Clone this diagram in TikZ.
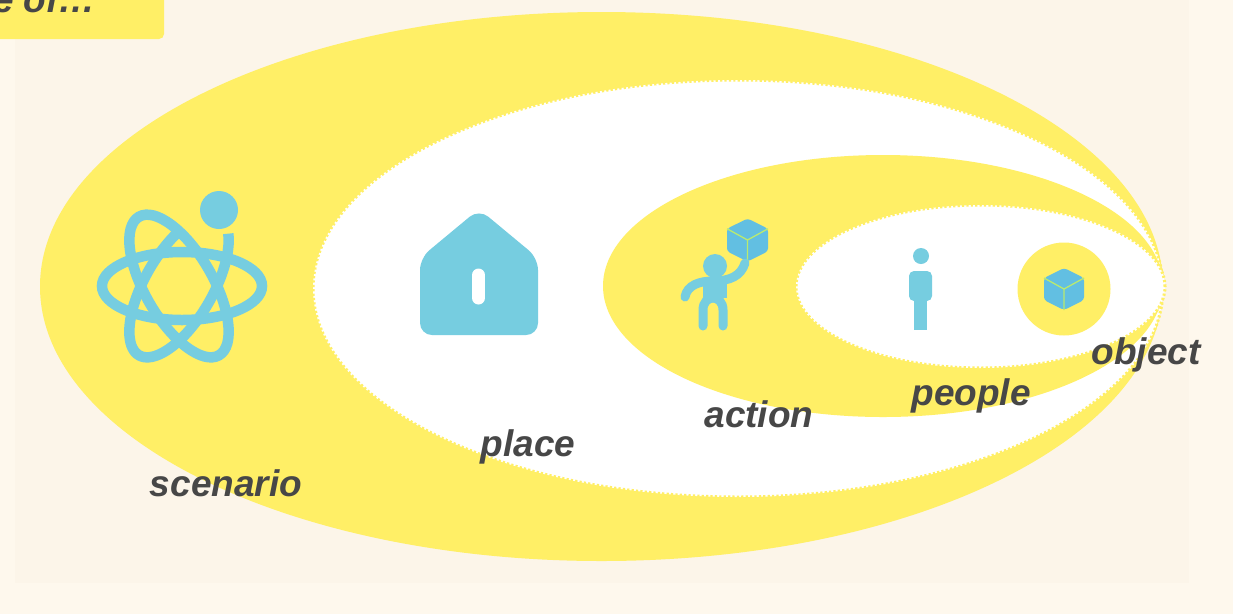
\documentclass[tikz,border=0pt]{standalone}
\usepackage{fontspec}
\setmainfont{Liberation Sans}
\usetikzlibrary{shapes.geometric, positioning}
\definecolor{paperlight}{HTML}{FEF8ED}
\definecolor{paper}{HTML}{FCF5E9}
\definecolor{setyellow}{HTML}{FFEF66}
\definecolor{iconblue}{HTML}{76CDE0}
\definecolor{cubeblue}{HTML}{62BFE2}
\definecolor{cubeline}{HTML}{B9EA70}
\definecolor{labelgray}{HTML}{474747}
\newcommand{\cubeicon}[3]{%
    \fill [cubeblue, rounded corners=3] (#1,#2-#3-1) -- (#1+#3,#2-.55*#3) -- (#1+#3,#2+.55*#3) -- (#1,#2+#3+1) -- (#1-#3,#2+.55*#3) -- (#1-#3,#2-.55*#3) -- cycle;
    \draw [cubeline, line width=1.3] (#1,#2) -- (#1,#2+#3+1) (#1,#2) -- (#1+#3,#2-.55*#3) (#1,#2) -- (#1-#3,#2-.55*#3);
}

\begin{document}
\begin{tikzpicture}[x=1pt, y=-1pt]
    \tikzstyle{setyellow} = [ellipse, inner sep=0, outer sep=0, fill=setyellow]
    \tikzstyle{setwhite} = [ellipse, inner sep=0, outer sep=0, fill=white, draw=setyellow, line width=3, dash pattern=on 2.2pt off 2.2pt]
    \tikzstyle{setlabel} = [anchor=base, inner sep=0, text=labelgray, font=\fontsize{37}{37}\selectfont\bfseries\itshape]
    \tikzstyle{iconline} = [iconblue, line width=9, line cap=round]
    \tikzstyle{atomline} = [iconblue, line width=10.5]

    \clip (0,0) rectangle (1233,614);
    \useasboundingbox (0,0) rectangle (1233,614);
    \fill [paperlight] (0,0) rectangle (1233,614);
    \fill [paper] (15,0) rectangle (1189,583);

    % heading box, cut by the page
    \fill [setyellow, rounded corners=5] (-20,-20) rectangle (164,39);
    \node (heading) [setlabel, anchor=base east] at (96,12) {e of…};

    % nested sets
    \node (scenarioset) [setyellow, minimum width=1123, minimum height=549] at (601.5,286.5) {};
    \node (placeset) [setwhite, minimum width=850, minimum height=417] at (738,288.5) {};
    \node (actionset) [setyellow, minimum width=560, minimum height=262] at (883,286) {};
    \node (peopleset) [setwhite, minimum width=369, minimum height=163] at (980.5,286.5) {};
    \node (objectset) [circle, inner sep=0, fill=setyellow, minimum size=93] at (1064,289) {};

    % scenario icon
    \fill [iconblue] (219,210) circle (19);
    \draw [atomline] (182,286) ellipse [x radius=80, y radius=34];
    \draw [atomline, rotate around={-60:(179,286)}] (179,286) ellipse [x radius=80, y radius=34];
    \draw [atomline, domain=29:310, samples=70, smooth, shift={(179,286)}, rotate=60] plot ({80*cos(\x)},{34*sin(\x)});

    % place icon
    \fill [iconblue, rounded corners=12] (479,209) -- (538,258) -- (538,335) -- (420,335) -- (420,258) -- cycle;
    \draw [white, line width=13, line cap=round] (478.5,275) -- (478.5,298);

    % action icon
    \cubeicon{747.5}{240}{20.5}
    \fill [iconblue] (715,266) circle (12);
    \draw [iconline, line width=9] (685,297) .. controls (687,285) and (700,281) .. (713,281) .. controls (730,281) and (741,276) .. (745,263);
    \fill [iconblue] (703,281) rectangle (727,298);
    \draw [iconline] (703,326) -- (703,310) .. controls (703,294) and (723,294) .. (723,310) -- (723,326);

    % people icon
    \fill [iconblue] (921,256) circle (8);
    \fill [iconblue, rounded corners=5] (909,271) rectangle (932,301);
    \fill [iconblue] (914,295) rectangle (927,330);

    % object icon
    \cubeicon{1064}{289}{20}

    \node (scenario) [setlabel] at (226,496) {scenario};
    \node (place) [setlabel] at (528,456) {place};
    \node (action) [setlabel] at (759,427) {action};
    \node (people) [setlabel] at (971,405) {people};
    \node (object) [setlabel] at (1146,364) {object};
\end{tikzpicture}
\end{document}
